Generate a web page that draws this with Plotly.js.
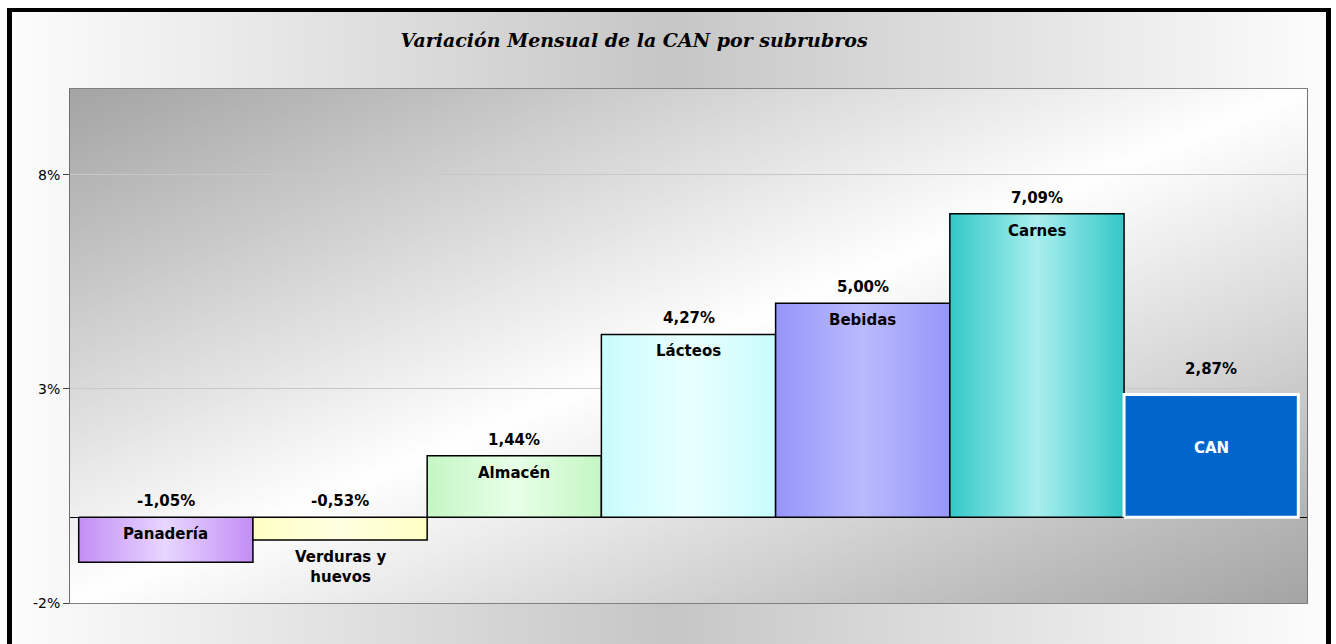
<!DOCTYPE html>
<html>
<head>
<meta charset="utf-8">
<script src="https://cdn.plot.ly/plotly-3.0.1.min.js"></script>
<style>
  html, body { margin: 0; padding: 0; background: #fff; overflow: hidden; }
  #frame {
    position: absolute; left: 7px; top: 8px;
    width: 1314px; height: 660px;
    border: 5px solid #000; border-top-width: 4px; border-bottom: none;
    background: linear-gradient(to right, #fcfcfc 0%, #c6c6c6 50%, #fcfcfc 100%);
  }
  #chart { width: 1314px; height: 650px; }
</style>
</head>
<body>
<div id="frame"><div id="chart"></div></div>
<script>
// data (monthly change, %)
const categories = ['Panadería', 'Verduras y huevos', 'Almacén', 'Lácteos', 'Bebidas', 'Carnes', 'CAN'];
const values = [-1.05, -0.53, 1.44, 4.27, 5.00, 7.09, 2.87];
const yTicks = [-2, 3, 8];

// bar fills: [edge, centre] of the horizontal gradient
const barFills = [
  ['#c38ef5', '#e8d6ff'],
  ['#ffffc4', '#ffffe2'],
  ['#c4f6c4', '#e8ffe8'],
  ['#c8fcfc', '#eaffff'],
  ['#9696fa', '#babaff'],
  ['#33c8c8', '#aaeeee'],
  ['#0066cc', '#0066cc']
];

const pxPerUnit = 514 / 12;
const labelFont = 'DejaVu Sans';

function fmt(v) {
  return v.toFixed(2).replace('.', ',') + '%';
}

// wrap a label into lines of at most n chars
function wrap(s, n) {
  const words = s.split(' ');
  const lines = [];
  let cur = '';
  words.forEach(function (w) {
    if (cur && (cur + ' ' + w).length > n) { lines.push(cur); cur = w; }
    else cur = cur ? cur + ' ' + w : w;
  });
  if (cur) lines.push(cur);
  return lines.join('<br>');
}

function diagGradient(stops) {
  const c = document.createElement('canvas');
  c.width = 256; c.height = 256;
  const g = c.getContext('2d');
  const lg = g.createLinearGradient(0, 0, 256, 256);
  stops.forEach(function (s) { lg.addColorStop(s[0], s[1]); });
  g.fillStyle = lg;
  g.fillRect(0, 0, 256, 256);
  return c.toDataURL();
}

const last = values.length - 1;
const traces = [];
const annotations = [];

for (let i = 0; i < values.length; i++) {
  const v = values[i];
  const t = {
    type: 'scatter', mode: 'lines',
    x: [i - 0.5, i + 0.5, i + 0.5, i - 0.5, i - 0.5],
    y: [0, 0, v, v, 0],
    fill: 'toself',
    hoverinfo: 'skip'
  };
  if (i === last) {
    t.fillcolor = barFills[i][0];
    t.line = { color: '#ffffff', width: 3 };
  } else {
    t.fillcolor = barFills[i][0];
    t.fillgradient = {
      type: 'horizontal',
      colorscale: [[0, barFills[i][0]], [0.5, barFills[i][1]], [1, barFills[i][0]]]
    };
    t.line = { color: '#000000', width: 1.5 };
  }
  traces.push(t);

  // value label above the bar (or above zero for negatives)
  annotations.push({
    x: i, y: Math.max(v, 0), xref: 'x', yref: 'y',
    text: '<b>' + fmt(v) + '</b>', showarrow: false,
    yanchor: 'bottom', yshift: i === last ? 14 : 5,
    font: { family: labelFont, size: 15, color: '#000' }
  });

  // category label
  const ann = {
    x: i, xref: 'x', yref: 'y', showarrow: false,
    font: { family: labelFont, size: 15, color: '#000' }
  };
  if (i === last) {
    ann.y = v / 2; ann.yanchor = 'middle'; ann.yshift = 8;
    ann.font = { family: labelFont, size: 15, color: '#fff' };
    ann.text = '<b>' + categories[i] + '</b>';
  } else if (Math.abs(v) * pxPerUnit < 30) {
    ann.y = v; ann.yanchor = 'top'; ann.yshift = -6;
    ann.text = '<b>' + wrap(categories[i], 10) + '</b>';
  } else {
    ann.y = Math.max(v, 0); ann.yanchor = 'top'; ann.yshift = -6;
    ann.text = '<b>' + categories[i] + '</b>';
  }
  annotations.push(ann);
}

const layout = {
  width: 1314, height: 650,
  margin: { l: 58, r: 19, t: 77, b: 59 },
  paper_bgcolor: 'rgba(0,0,0,0)',
  plot_bgcolor: 'rgba(0,0,0,0)',
  showlegend: false,
  hovermode: false,
  title: {
    text: 'Variación Mensual de la CAN por subrubros',
    xref: 'container', x: 622 / 1314, xanchor: 'center',
    yref: 'container', y: 1 - 28 / 650, yanchor: 'middle',
    font: { family: 'DejaVu Serif', size: 19, color: '#000', weight: 'bold', style: 'italic' }
  },
  xaxis: {
    range: [-0.55, 6.55],
    showticklabels: false, ticks: '', showgrid: false, zeroline: false,
    showline: true, mirror: true, linecolor: '#808080', linewidth: 1,
    fixedrange: true
  },
  yaxis: {
    range: [-2, 10],
    tickmode: 'array', tickvals: yTicks,
    ticktext: yTicks.map(function (d) { return d + '%'; }),
    ticks: 'outside', ticklen: 6, tickcolor: '#404040',
    tickfont: { family: labelFont, size: 14, color: '#000' },
    showgrid: true, gridcolor: '#c8c8c8', gridwidth: 1,
    zeroline: true, zerolinecolor: '#000', zerolinewidth: 1,
    showline: true, mirror: true, linecolor: '#707070', linewidth: 1,
    fixedrange: true
  },
  images: [{
    source: diagGradient([[0, '#a4a4a4'], [0.5, '#ffffff'], [1, '#a4a4a4']]),
    xref: 'paper', yref: 'paper', x: 0, y: 1, sizex: 1, sizey: 1,
    sizing: 'stretch', xanchor: 'left', yanchor: 'top', layer: 'below'
  }],
  annotations: annotations
};

Plotly.newPlot('chart', traces, layout, { staticPlot: true, displayModeBar: false });
</script>
</body>
</html>
